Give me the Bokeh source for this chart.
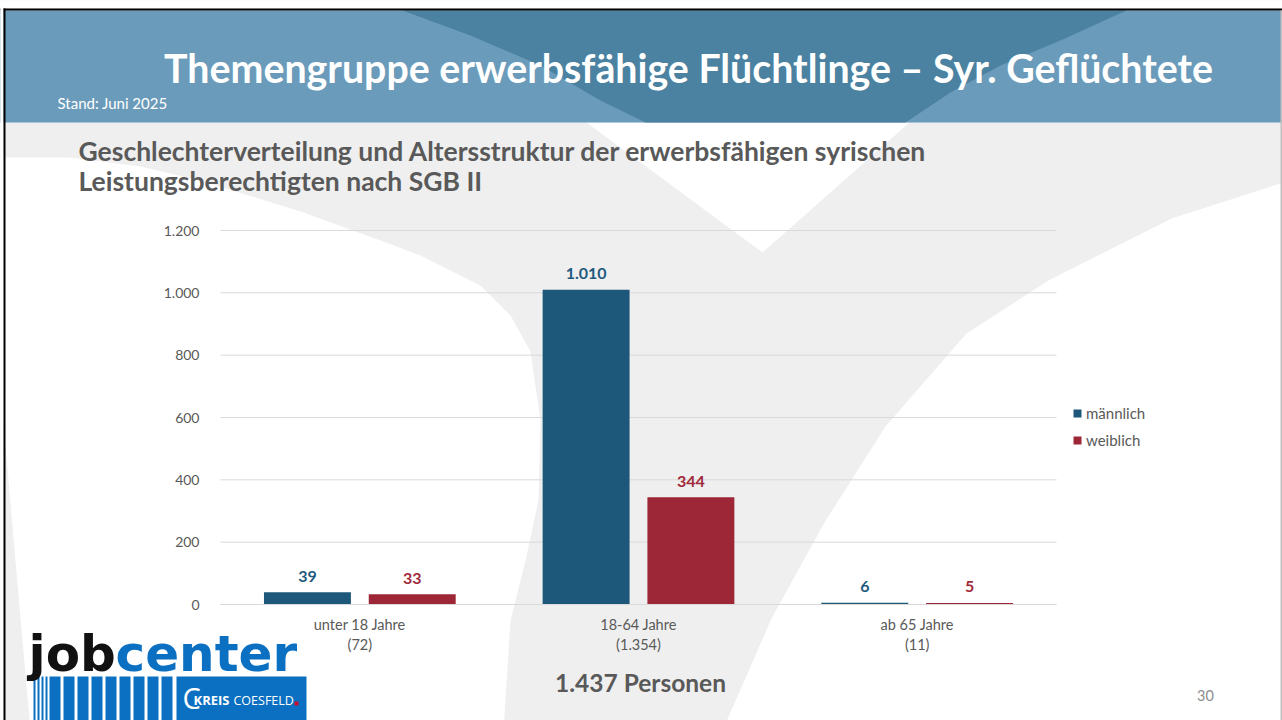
from bokeh.plotting import figure
from bokeh.models import (Range1d, FixedTicker, ColumnDataSource, Legend, LegendItem,
                          LinearAxis, Label)
from bokeh.transform import dodge
from bokeh.core.properties import value
from bokeh.embed import file_html
from bokeh.resources import INLINE

# ---------------- data ----------------
categories = ["unter 18 Jahre", "18-64 Jahre", "ab 65 Jahre"]
maennlich = [39, 1010, 6]
weiblich = [33, 344, 5]
series_names = ["männlich", "weiblich"]
y_ticks = [0, 200, 400, 600, 800, 1000, 1200]
y_tick_labels = ["0", "200", "400", "600", "800", "1.000", "1.200"]
title_text = "Themengruppe erwerbsfähige Flüchtlinge – Syr. Geflüchtete"
stand_text = "Stand: Juni 2025"
subtitle_lines = ["Geschlechterverteilung und Altersstruktur der erwerbsfähigen syrischen",
                  "Leistungsberechtigten nach SGB II"]
page_number = "30"


def de(n):
    return f"{n:,}".replace(",", ".")


totals = [m + w for m, w in zip(maennlich, weiblich)]
total_all = sum(totals)
positions = [i + 0.5 for i in range(len(categories))]

# ---------------- style ----------------
MALE = "#1d5779"
FEMALE = "#9e2737"
MALE_TXT = "#1f5a7e"
FEMALE_TXT = "#a02a3a"
GREY_TXT = "#595959"
BG_GREY = "#efefef"
HEAD_LIGHT = "#6b9bba"
HEAD_DARK = "#4b82a1"
LOGO_BLUE = "#0b70c1"
FONT = "Lato"

W, H = 1282, 720
# chart frame inside the canvas (pixels from top-left)
FL, FR, FT, FB = 220, 1056, 230, 604
YMAX = 1200
ncat = len(categories)
ppu_x = (FR - FL) / ncat
ppu_y = (FB - FT) / YMAX

p = figure(width=W, height=H, x_range=Range1d(0, W), y_range=Range1d(H, 0),
           x_axis_type=None, y_axis_type=None, title=None,
           output_backend="svg", toolbar_location=None, min_border=0)
p.extra_x_ranges = {"chart": Range1d(-FL / ppu_x, ncat + (W - FR) / ppu_x)}
p.extra_y_ranges = {"val": Range1d(-(H - FB) / ppu_y, YMAX + FT / ppu_y)}
p.border_fill_color = BG_GREY
p.background_fill_color = BG_GREY
p.outline_line_color = None


def poly(pts, color):
    p.patch([a for a, b in pts], [b for a, b in pts], fill_color=color,
            line_color=None, level="image")


def box(l, t, r, b, color, level="image"):
    p.quad(left=l, right=r, top=t, bottom=b, fill_color=color,
           line_color=None, level=level)


def label(rx, baseline, text, size, color, bold=False, align="left", font=FONT):
    p.add_layout(Label(x=rx, y=baseline - 0.4 * size, text=text,
                       text_font=font, text_font_size=f"{size}px",
                       text_font_style="bold" if bold else "normal",
                       text_color=color, text_align=align, text_baseline="alphabetic"))


# ---------------- background decoration ----------------
poly([(-20, 157), (70, 157), (140, 166), (200, 180), (300, 211), (380, 240), (420, 255),
      (480, 285), (510, 315), (530, 351), (540, 420), (538, 500), (525, 560), (510, 620),
      (503, 730), (30, 730), (20, 618), (10, 503), (0, 387), (-20, 380)], "white")
poly([(586, 122), (909, 122), (762, 252)], "white")
poly([(1300, 183), (1280, 183), (1171, 218), (1048, 280), (966, 333), (885, 426),
      (824, 522), (771, 618), (722, 730), (1300, 730)], "white")

box(-20, 10, 1300, 122, HEAD_LIGHT)
poly([(402, 10), (1126, 10), (1060, 40), (1000, 65), (950, 92), (905, 122),
      (645, 122), (600, 100), (540, 65), (470, 35)], HEAD_DARK)
box(-20, -20, 1300, 8, "white")
box(-20, 8, 1300, 10, "black")
box(-20, -20, 3, 730, "white")
box(3, 8, 5, 730, "black")
box(1280, 10, 1282, 730, "#bfbfbf")

label(688, 83, title_text, 39.3, "white", bold=True, align="center")
label(57, 108, stand_text, 15, "white")
label(78, 161, subtitle_lines[0], 26.5, GREY_TXT, bold=True)
label(78, 191, subtitle_lines[1], 26.5, GREY_TXT, bold=True)
label(640, 692, f"{de(total_all)} Personen", 24.5, GREY_TXT, bold=True, align="center")
label(1205, 701, page_number, 14.5, "#8c8c8c", align="center")

# ---------------- logo ----------------
thin = [(33, 35), (37, 39), (41, 43), (45, 47)]
wide = [(49, 60), (63, 74), (77, 88), (91, 102), (105, 116), (119, 130), (133, 144),
        (147, 158), (161, 172)]
for a, b in thin + wide:
    box(a, 676, b, 720, LOGO_BLUE, level="glyph")
box(176, 676, 306, 720, LOGO_BLUE, level="glyph")
box(294, 701, 298, 705, "#c8102e", level="glyph")
label(28, 673, "job", 50, "#111111", bold=True, font="DejaVu Sans")
label(115, 673, "center", 50, LOGO_BLUE, bold=True, font="DejaVu Sans")
label(182, 709, "C", 29, "white", font="Open Sans")
label(193, 705, "KREIS", 13, "white", bold=True, font="Open Sans")
label(233, 705, "COESFELD", 12.5, "white", font="Open Sans")

# ---------------- chart ----------------
grid_src = ColumnDataSource(dict(y=y_ticks, x0=[0] * len(y_ticks), x1=[ncat] * len(y_ticks)))
p.segment(x0="x0", x1="x1", y0="y", y1="y", source=grid_src, line_color="#d9d9d9",
          line_width=1, x_range_name="chart", y_range_name="val", level="underlay")

src = ColumnDataSource(dict(pos=positions, m=maennlich, w=weiblich,
                            m_lbl=[de(v) for v in maennlich],
                            w_lbl=[de(v) for v in weiblich]))
OFF = 0.188
BW = 0.312
rm = p.vbar(x=dodge("pos", -OFF), top="m", width=BW, source=src,
            fill_color=MALE, line_color=None, x_range_name="chart", y_range_name="val")
rw = p.vbar(x=dodge("pos", OFF), top="w", width=BW, source=src,
            fill_color=FEMALE, line_color=None, x_range_name="chart", y_range_name="val")
p.text(x=dodge("pos", -OFF), y="m", text="m_lbl", source=src,
       text_align="center", text_baseline="alphabetic", y_offset=-16,
       text_font=value(FONT), text_font_style="bold", text_font_size="16px",
       text_color=MALE_TXT, x_range_name="chart", y_range_name="val")
p.text(x=dodge("pos", OFF), y="w", text="w_lbl", source=src,
       text_align="center", text_baseline="alphabetic", y_offset=-16,
       text_font=value(FONT), text_font_style="bold", text_font_size="16px",
       text_color=FEMALE_TXT, x_range_name="chart", y_range_name="val")

yax = LinearAxis(y_range_name="val", fixed_location=FL,
                 ticker=FixedTicker(ticks=y_ticks),
                 major_label_overrides=dict(zip(y_ticks, y_tick_labels)),
                 axis_line_color=None, major_tick_line_color=None,
                 minor_tick_line_color=None, major_label_standoff=15,
                 major_label_text_font=FONT, major_label_text_font_size="14px",
                 major_label_text_color=GREY_TXT)
p.add_layout(yax, "left")

xax = LinearAxis(x_range_name="chart", y_range_name="val", fixed_location=0,
                 bounds=(0, ncat),
                 ticker=FixedTicker(ticks=positions),
                 major_label_overrides={pp: f"{c}\n({de(t)})"
                                        for pp, c, t in zip(positions, categories, totals)},
                 axis_line_color="#d9d9d9", major_tick_line_color=None,
                 minor_tick_line_color=None, major_label_standoff=5,
                 major_label_text_font=FONT, major_label_text_font_size="14.5px",
                 major_label_text_color=GREY_TXT)
p.add_layout(xax, "below")

legend = Legend(items=[LegendItem(label=series_names[0], renderers=[rm]),
                       LegendItem(label=series_names[1], renderers=[rw])],
                location=(1072, H - 450), padding=0, margin=0, spacing=7,
                glyph_width=10, glyph_height=10, label_standoff=4, label_height=20,
                label_text_font=FONT, label_text_font_size="15px",
                label_text_color=GREY_TXT, border_line_color=None,
                background_fill_color=None)
p.add_layout(legend)

open("out.html", "w").write(file_html(p, INLINE))
